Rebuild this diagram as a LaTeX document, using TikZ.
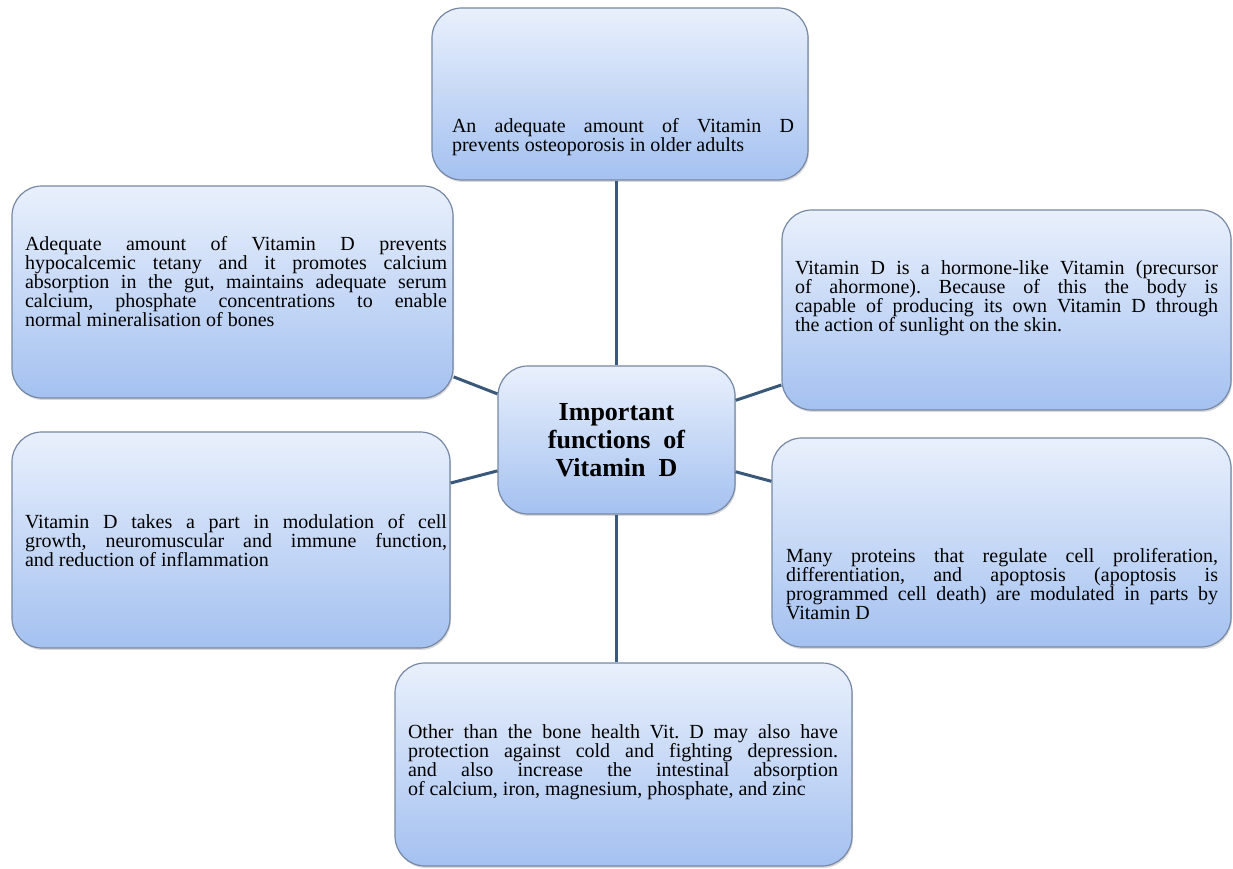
\documentclass[tikz,border=0pt]{standalone}
\usepackage{fontspec}
\setmainfont{Liberation Serif}
\usetikzlibrary{shadows}

\definecolor{boxtop}{RGB}{233,240,252}
\definecolor{boxbot}{RGB}{164,193,240}
\definecolor{boxline}{RGB}{118,136,164}
\definecolor{linkcol}{RGB}{58,88,122}

\newcommand\boxfont{\fontsize{20}{19}\selectfont\frenchspacing\lineskiplimit=-100pt\relax}

\begin{document}
\begin{tikzpicture}[x=1pt, y=1pt,
    box/.style={rectangle, rounded corners=30pt, draw=boxline, line width=1.2pt,
        top color=boxtop, bottom color=boxbot,
        drop shadow={shadow xshift=1pt, shadow yshift=-2pt, opacity=0.3}},
    txt/.style={inner sep=0pt, align=justify, font=\boxfont},
    link/.style={draw=linkcol, line width=3pt}]
    \useasboundingbox (0,0) rectangle (1233,869);

    % boxes
    \node[box, minimum width=376pt, minimum height=172pt] (tp) at (620,775) {};
    \node[box, minimum width=441pt, minimum height=212pt] (ul) at (232.5,577) {};
    \node[box, minimum width=449pt, minimum height=200pt] (ur) at (1006.5,559) {};
    \node[box, minimum width=438pt, minimum height=216pt] (ll) at (231,329) {};
    \node[box, minimum width=459pt, minimum height=209pt] (lr) at (1001.5,326.5) {};
    \node[box, minimum width=457pt, minimum height=203pt] (bt) at (623.5,104.5) {};
    \node[box, minimum width=237pt, minimum height=148pt, align=center,
        font=\fontsize{26}{28}\selectfont\bfseries] (ctr) at (616.5,429)
        {Important\\functions~ of\\Vitamin~ D};

    % links
    \path[link] (ctr.north) -- (ctr.north |- tp.south);
    \path[link] (ctr.south) -- (ctr.south |- bt.north);
    \path[link] (ctr) -- (ul);
    \path[link] (ctr) -- (ur);
    \path[link] (ctr) -- (ll);
    \path[link] (ctr) -- (lr);

    % texts
    \node[txt, text width=342pt] (tptext) at (623,732)
        {An adequate amount of Vitamin D\linebreak prevents osteoporosis in older adults};
    \node[txt, text width=422pt] (ultext) at (236,587)
        {Adequate amount of Vitamin D prevents\linebreak hypocalcemic tetany and it promotes calcium\linebreak absorption in the gut, maintains adequate serum\linebreak calcium, phosphate concentrations to enable\linebreak normal mineralisation of bones};
    \node[txt, text width=423pt] (urtext) at (1006.5,571)
        {Vitamin D is a hormone-like Vitamin (precursor\linebreak of ahormone). Because of this the body is\linebreak capable of producing its own Vitamin D through\linebreak the action of sunlight on the skin.};
    \node[txt, text width=422pt] (lltext) at (236,328)
        {Vitamin D takes a part in modulation of cell\linebreak growth, neuromuscular and immune function,\linebreak and reduction of inflammation};
    \node[txt, text width=432pt] (lrtext) at (1002,285)
        {Many proteins that regulate cell proliferation,\linebreak differentiation, and apoptosis (apoptosis is\linebreak programmed cell death) are modulated in parts by\linebreak Vitamin D};
    \node[txt, text width=430pt] (bttext) at (623,107)
        {Other than the bone health Vit. D may also have\linebreak protection against cold and fighting depression.\linebreak and also increase the intestinal absorption\linebreak of calcium, iron, magnesium, phosphate, and zinc};
\end{tikzpicture}
\end{document}
